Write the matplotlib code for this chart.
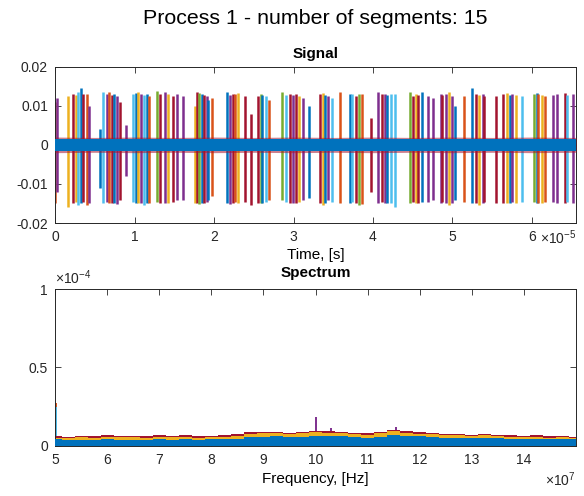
import numpy as np
import matplotlib
matplotlib.use('Agg')
import matplotlib.pyplot as plt
from matplotlib import rc

rc('font', family='Liberation Sans', size=10)
rc('mathtext', fontset='custom', rm='Liberation Sans', it='Liberation Sans:italic', bf='Liberation Sans:bold')

# matlab default line colours
colors = ['#0072BD', '#D95319', '#EDB120', '#7E2F8E', '#77AC30', '#4DBEEE', '#A2142F']
axcol = '#262626'

# ---- signal: pulses (time in 1e-5 s, top, bottom, colour index)
spike_t = [0.00, 0.03, 0.16, 0.23, 0.26, 0.29, 0.33, 0.35, 0.40, 0.43,
           0.57, 0.60, 0.65, 0.68, 0.72, 0.74, 0.78, 0.82, 0.89, 0.98,
           1.02, 1.04, 1.08, 1.12, 1.16, 1.18, 1.28, 1.32, 1.38, 1.42,
           1.48, 1.53, 1.61, 1.76, 1.78, 1.81, 1.85, 1.87, 1.91, 1.93,
           1.98, 2.16, 2.20, 2.24, 2.26, 2.30, 2.39, 2.47, 2.55, 2.59,
           2.61, 2.65, 2.69, 2.86, 2.91, 2.95, 2.99, 3.03, 3.07, 3.12,
           3.19, 3.33, 3.37, 3.40, 3.44, 3.49, 3.58, 3.71, 3.74, 3.78,
           3.82, 3.86, 3.98, 4.06, 4.11, 4.15, 4.18, 4.23, 4.28, 4.46,
           4.50, 4.54, 4.57, 4.62, 4.69, 4.76, 4.86, 4.87, 4.92, 4.95,
           5.00, 5.03, 5.15, 5.25, 5.29, 5.33, 5.38, 5.40, 5.55, 5.63,
           5.68, 5.72, 5.75, 5.80, 5.87, 6.02, 6.06, 6.08, 6.12, 6.16,
           6.26, 6.32, 6.41, 6.44, 6.51]
spike_c = [1, 3, 2, 6, 2, 5, 0, 6, 1, 3,
           0, 5, 3, 1, 6, 0, 3, 6, 3, 5,
           0, 2, 3, 5, 0, 1, 4, 6, 3, 2,
           6, 3, 3, 2, 6, 4, 0, 6, 3, 0,
           1, 0, 3, 6, 1, 2, 6, 6, 6, 4,
           0, 5, 1, 4, 5, 6, 3, 6, 2, 3,
           0, 6, 2, 0, 3, 5, 1, 0, 5, 6,
           4, 1, 6, 3, 6, 3, 0, 5, 5, 4,
           6, 2, 6, 0, 3, 3, 3, 6, 3, 2,
           3, 0, 1, 0, 6, 2, 3, 6, 6, 6,
           2, 0, 3, 2, 5, 4, 0, 1, 2, 1,
           3, 3, 6, 5, 3]
spike_top = [0.0110, 0.0120, 0.0125, 0.0130, 0.0128, 0.0135, 0.0145, 0.0130, 0.0130, 0.0100,
             0.0040, 0.0135, 0.0130, 0.0135, 0.0128, 0.0130, 0.0125, 0.0110, 0.0050, 0.0130,
             0.0132, 0.0135, 0.0130, 0.0128, 0.0130, 0.0125, 0.0138, 0.0130, 0.0135, 0.0130,
             0.0125, 0.0130, 0.0125, 0.0100, 0.0135, 0.0132, 0.0130, 0.0128, 0.0125, 0.0115,
             0.0120, 0.0135, 0.0128, 0.0130, 0.0130, 0.0132, 0.0125, 0.0080, 0.0125, 0.0130,
             0.0128, 0.0125, 0.0115, 0.0135, 0.0128, 0.0130, 0.0128, 0.0130, 0.0125, 0.0120,
             0.0100, 0.0130, 0.0132, 0.0128, 0.0125, 0.0120, 0.0135, 0.0130, 0.0130, 0.0125,
             0.0130, 0.0130, 0.0070, 0.0135, 0.0130, 0.0130, 0.0128, 0.0130, 0.0130, 0.0135,
             0.0125, 0.0130, 0.0128, 0.0135, 0.0125, 0.0120, 0.0130, 0.0128, 0.0130, 0.0135,
             0.0125, 0.0100, 0.0125, 0.0145, 0.0130, 0.0128, 0.0130, 0.0125, 0.0125, 0.0130,
             0.0132, 0.0128, 0.0130, 0.0128, 0.0125, 0.0130, 0.0132, 0.0130, 0.0128, 0.0125,
             0.0128, 0.0130, 0.0132, 0.0128, 0.0130]
spike_bot = [-0.0150, -0.0120, -0.0160, -0.0150, -0.0145, -0.0155, -0.0150, -0.0145, -0.0155, -0.0150,
             -0.0110, -0.0150, -0.0145, -0.0150, -0.0148, -0.0150, -0.0152, -0.0140, -0.0080, -0.0145,
             -0.0148, -0.0150, -0.0150, -0.0155, -0.0148, -0.0150, -0.0145, -0.0150, -0.0148, -0.0150,
             -0.0145, -0.0140, -0.0140, -0.0150, -0.0150, -0.0152, -0.0148, -0.0150, -0.0145, -0.0140,
             -0.0130, -0.0150, -0.0152, -0.0150, -0.0145, -0.0150, -0.0145, -0.0155, -0.0150, -0.0148,
             -0.0150, -0.0145, -0.0140, -0.0140, -0.0145, -0.0150, -0.0148, -0.0150, -0.0145, -0.0140,
             -0.0135, -0.0150, -0.0155, -0.0150, -0.0140, -0.0145, -0.0150, -0.0150, -0.0145, -0.0150,
             -0.0155, -0.0152, -0.0120, -0.0150, -0.0145, -0.0150, -0.0148, -0.0150, -0.0160, -0.0148,
             -0.0145, -0.0150, -0.0150, -0.0145, -0.0145, -0.0140, -0.0150, -0.0145, -0.0150, -0.0155,
             -0.0150, -0.0140, -0.0145, -0.0150, -0.0148, -0.0155, -0.0150, -0.0145, -0.0150, -0.0150,
             -0.0148, -0.0150, -0.0145, -0.0150, -0.0145, -0.0145, -0.0150, -0.0148, -0.0150, -0.0145,
             -0.0145, -0.0150, -0.0150, -0.0145, -0.0148]

# noise floor envelope of the time signal
band_t = [0.0, 0.5, 1.0, 1.5, 2.0, 2.5, 3.0, 3.5, 4.0, 4.5, 5.0, 5.5, 6.0, 6.5536]
band_outer = [0.0020, 0.0019, 0.0020, 0.0019, 0.0020, 0.0019, 0.0020,
              0.0019, 0.0020, 0.0019, 0.0020, 0.0019, 0.0020, 0.0019]
band_inner = [0.0016, 0.0016, 0.0016, 0.0016, 0.0016, 0.0016, 0.0016,
              0.0016, 0.0016, 0.0016, 0.0016, 0.0016, 0.0016, 0.0016]

# ---- spectrum (freq in 1e7 Hz, magnitude in 1e-4)
spec_f = [5.0, 5.25, 5.5, 5.75, 6.0, 6.25, 6.5, 6.75, 7.0, 7.25, 7.5, 7.75, 8.0, 8.25,
          8.5, 8.75, 9.0, 9.25, 9.5, 9.75, 10.0, 10.25, 10.5, 10.75, 11.0, 11.25, 11.5,
          11.75, 12.0, 12.25, 12.5, 12.75, 13.0, 13.25, 13.5, 13.75, 14.0, 14.25, 14.5,
          14.75, 15.0]
spec_floor = [0.040, 0.035, 0.038, 0.036, 0.040, 0.037, 0.039, 0.036, 0.040, 0.038,
              0.041, 0.037, 0.040, 0.042, 0.045, 0.055, 0.058, 0.060, 0.055, 0.058,
              0.065, 0.062, 0.060, 0.055, 0.052, 0.058, 0.068, 0.065, 0.060, 0.055,
              0.052, 0.050, 0.048, 0.050, 0.046, 0.045, 0.042, 0.044, 0.040, 0.042, 0.040]
spec_tips = [0.060, 0.058, 0.064, 0.060, 0.066, 0.062, 0.064, 0.060, 0.066, 0.063,
             0.066, 0.060, 0.064, 0.066, 0.072, 0.085, 0.090, 0.088, 0.082, 0.088,
             0.095, 0.092, 0.088, 0.080, 0.078, 0.088, 0.100, 0.092, 0.085, 0.080,
             0.076, 0.074, 0.070, 0.074, 0.068, 0.066, 0.062, 0.066, 0.060, 0.062, 0.058]
peak_f = [5.02, 5.02, 10.0, 10.3, 11.55]
peak_h = [0.27, 0.25, 0.185, 0.11, 0.12]
peak_c = [1, 5, 3, 3, 3]


def style(ax):
    for s in ax.spines.values():
        s.set_color(axcol)
        s.set_linewidth(0.7)
    ax.tick_params(direction='in', top=True, right=True, length=4, width=0.6,
                   colors=axcol, labelcolor=axcol, labelsize=10, pad=5)


fig = plt.figure(figsize=(5.84, 4.96), dpi=100)
fig.text(0.54, 0.963, 'Process 1 - number of segments: 15', ha='center', va='center',
         fontsize=15.4, color='black')

# signal
ax1 = fig.add_axes([0.0942, 0.5504, 0.8921, 0.3151])
ax1.vlines(spike_t, spike_bot, spike_top, colors=[colors[c] for c in spike_c],
           linewidth=1.8, zorder=2)
ax1.fill_between(band_t, [-v for v in band_outer], band_outer, color=colors[6], alpha=0.55,
                 lw=0, zorder=3)
ax1.fill_between(band_t, [-v for v in band_inner], band_inner, color=colors[0], lw=0, zorder=4)
ax1.set_xlim(0, 6.5536)
ax1.set_ylim(-0.02, 0.02)
ax1.set_xticks(range(0, 7))
ax1.set_xticklabels([str(i) for i in range(0, 7)])
ax1.set_yticks([-0.02, -0.01, 0, 0.01, 0.02])
ax1.set_yticklabels(['-0.02', '-0.01', '0', '0.01', '0.02'])
style(ax1)
ax1.set_title('Signal', fontsize=11, fontweight='bold', pad=6)
ax1.set_xlabel('Time, [s]', fontsize=11, labelpad=3)
ax1.text(1.0, -0.035, r'$\times10^{-5}$', transform=ax1.transAxes, ha='right', va='top',
         fontsize=10, color=axcol)

# spectrum
ax2 = fig.add_axes([0.0942, 0.1014, 0.8921, 0.3159])
ax2.fill_between(spec_f, 0, spec_tips, step='mid', color=colors[6], lw=0, zorder=2)
ax2.fill_between(spec_f, 0, [t - 0.008 for t in spec_tips], step='mid', color=colors[2],
                 lw=0, zorder=2)
ax2.fill_between(spec_f, 0, spec_floor, step='mid', color=colors[0], lw=0, zorder=3)
ax2.vlines(peak_f, 0, peak_h, colors=[colors[c] for c in peak_c], linewidth=1.4, zorder=1)
ax2.set_xlim(5, 15)
ax2.set_ylim(0, 1)
ax2.set_xticks(range(5, 15))
ax2.set_xticklabels([str(i) for i in range(5, 15)])
ax2.set_yticks([0, 0.5, 1])
ax2.set_yticklabels(['0', '0.5', '1'])
style(ax2)
ax2.set_title('Spectrum', fontsize=11, fontweight='bold', pad=9)
ax2.set_xlabel('Frequency, [Hz]', fontsize=11, labelpad=4)
ax2.text(0.0, 1.01, r'$\times10^{-4}$', transform=ax2.transAxes, ha='left', va='bottom',
         fontsize=10, color=axcol)
ax2.text(1.0, -0.16, r'$\times10^{7}$', transform=ax2.transAxes, ha='right', va='top',
         fontsize=10, color=axcol)

fig.savefig('out.png', dpi=100)
